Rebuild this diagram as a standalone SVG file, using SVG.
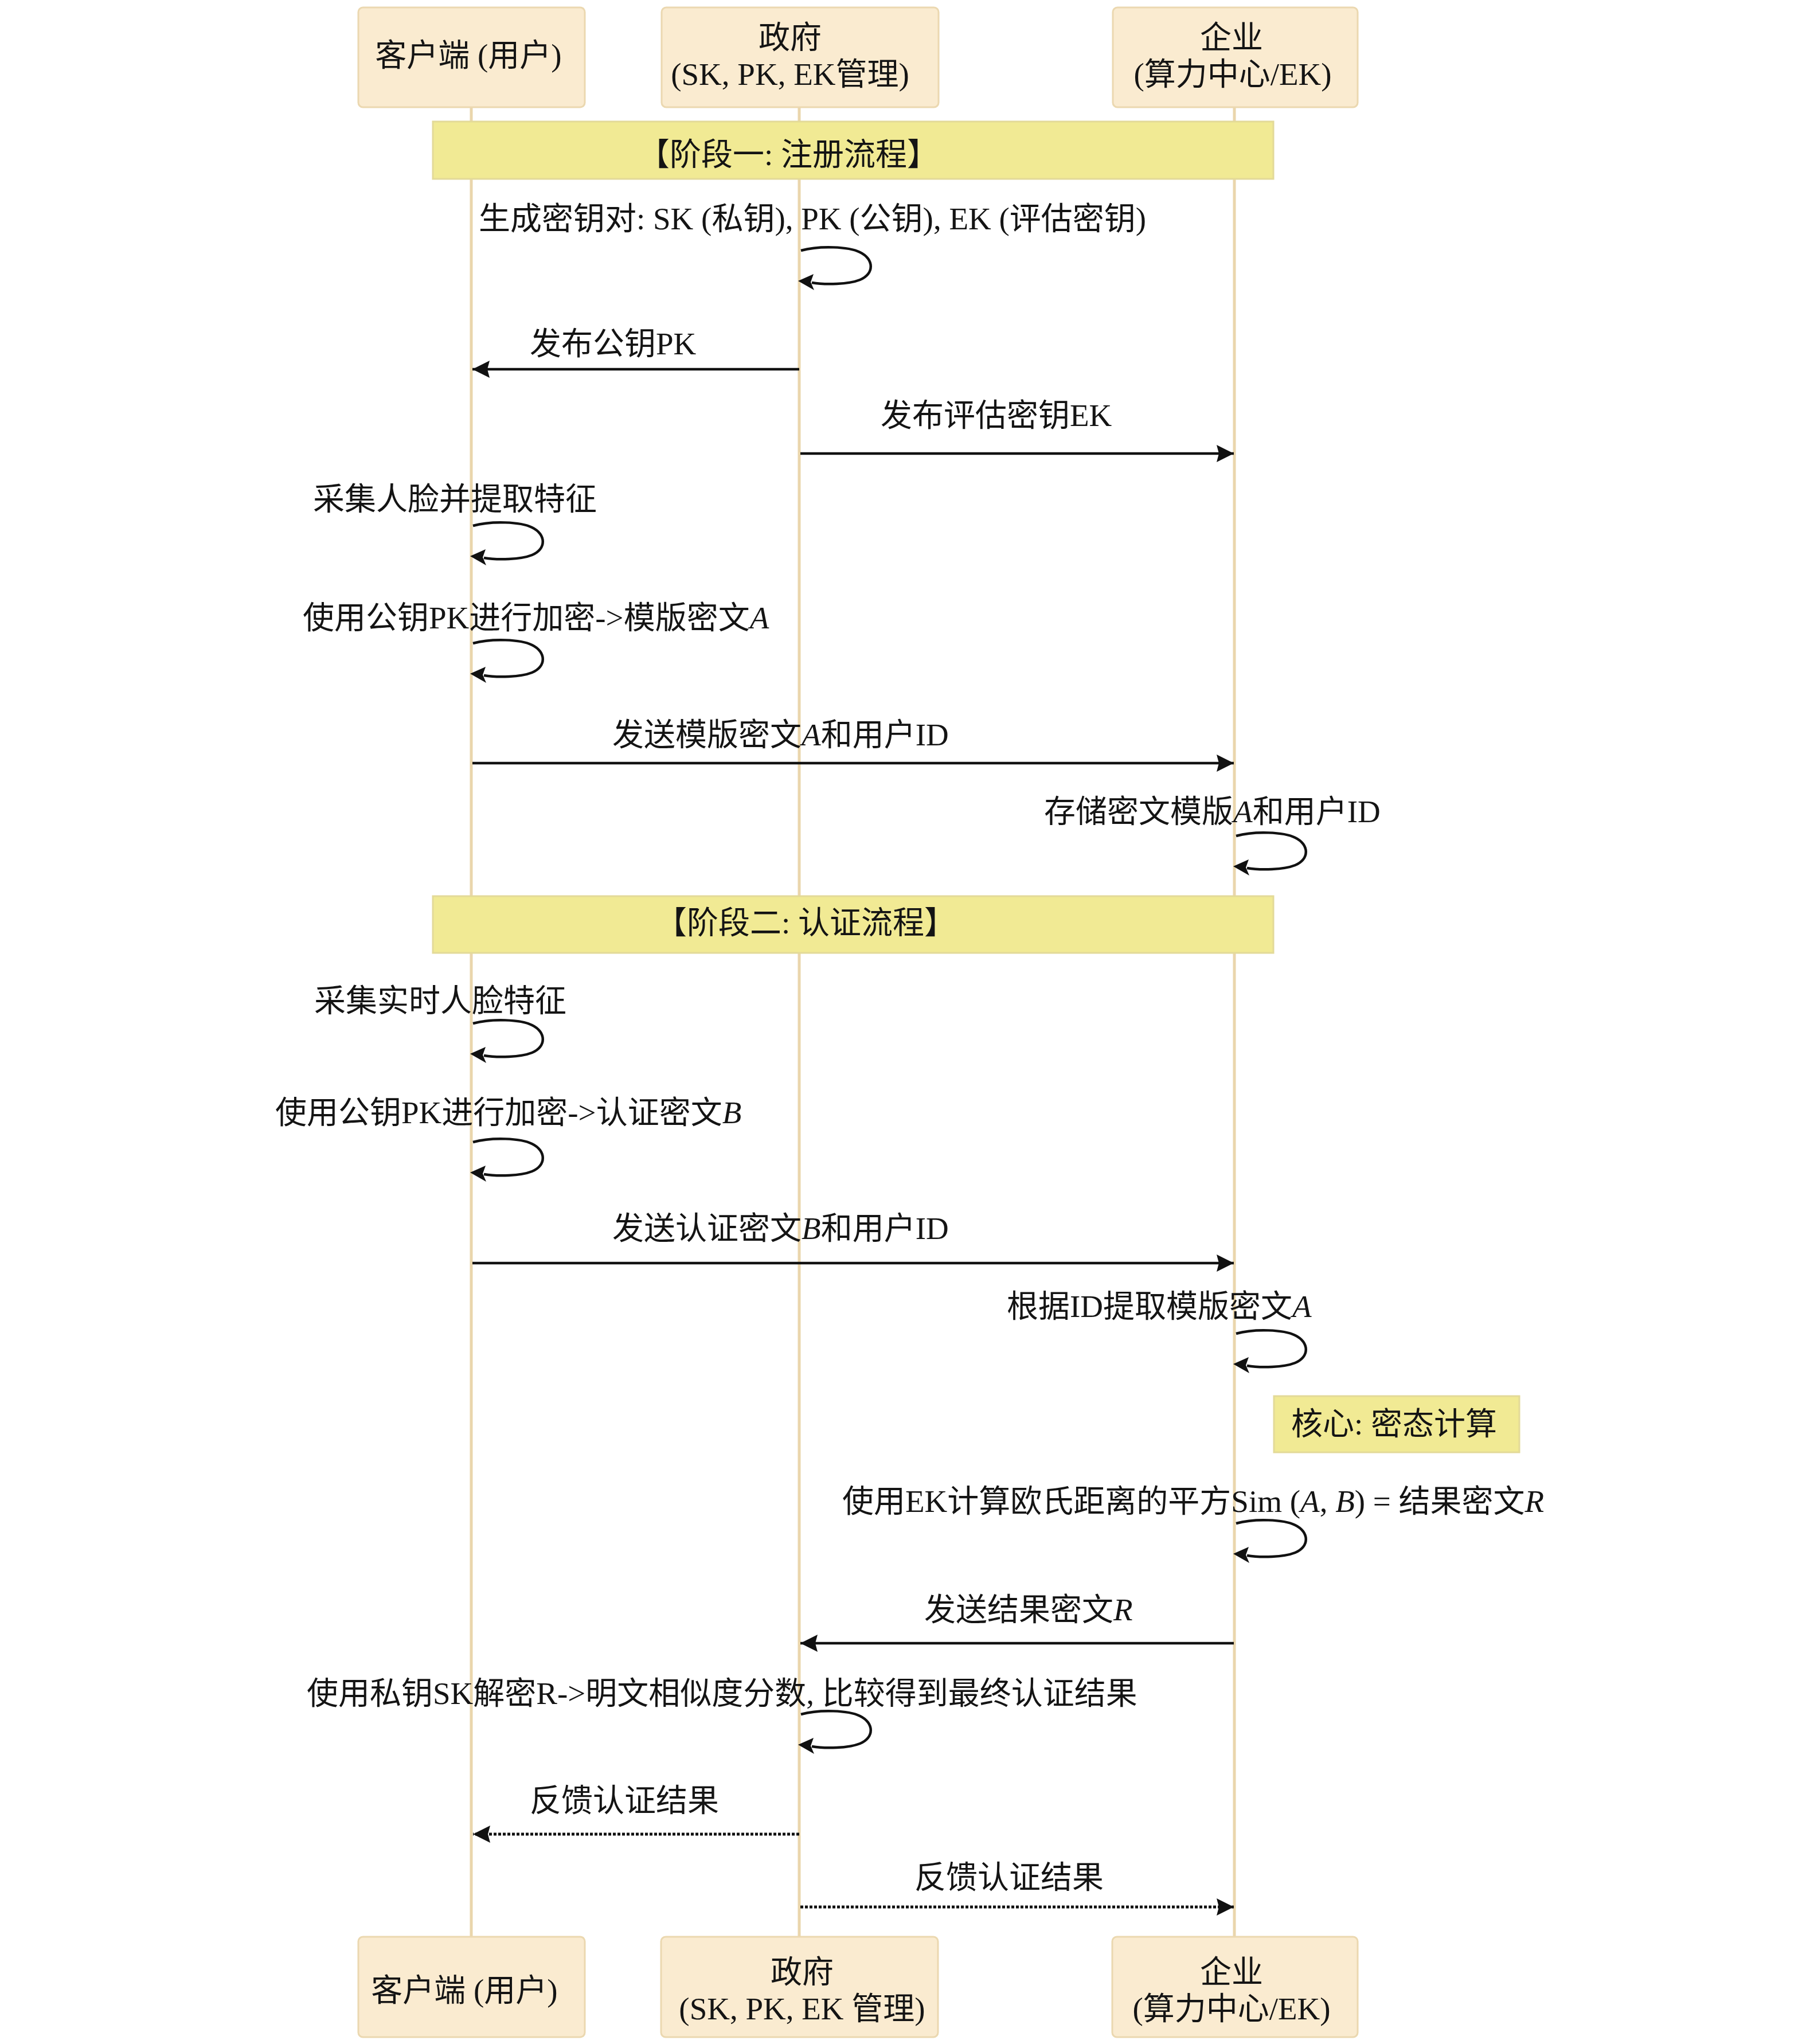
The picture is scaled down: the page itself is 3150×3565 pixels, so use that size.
<svg xmlns="http://www.w3.org/2000/svg" xmlns:xlink="http://www.w3.org/1999/xlink" width="3150" height="3565" viewBox="0 0 3150 3565">
<style>
text{font-family:"Liberation Serif","Noto Sans CJK SC",serif;font-size:55px;fill:#141414}
.mid{text-anchor:middle}
.it{font-style:italic}
.box{fill:#FAEBD0;stroke:#EBD8B0;stroke-width:3}
.band{fill:#F1EA94;stroke:#E3DA98;stroke-width:3}
.life{stroke:#EAD6AC;stroke-width:5;fill:none}
.msg{stroke:#111;stroke-width:4.5;fill:none}
.dot{stroke:#111;stroke-width:5;fill:none;stroke-dasharray:5 3}
</style>
<defs>
<marker id="ah" markerUnits="userSpaceOnUse" markerWidth="32" markerHeight="32" viewBox="0 0 32 32" refX="30" refY="16" orient="auto">
<path d="M0,1 L30,16 L0,31 L4,16 z" fill="#111"/>
</marker>
<g id="loop">
<path d="M3,2 C36,-7 86,-5 106,5 C131,17 131,43 106,53 C86,61 46,62 22,58" fill="none" stroke="#111" stroke-width="4.5"/>
<polygon points="-2,55 25,43 20,57 26,71" fill="#111"/>
</g>
</defs>
<rect width="3150" height="3565" fill="#fff"/>

<g id="lifelines">
<line class="life" x1="822" y1="187" x2="822" y2="3378"/>
<line class="life" x1="1394" y1="187" x2="1394" y2="3378"/>
<line class="life" x1="2153" y1="187" x2="2153" y2="3378"/>
</g>

<g id="client-top">
<rect class="box" x="625" y="13" width="395" height="174" rx="8"/>
<text class="mid" x="817" y="115">客户端 (用户)</text>
</g>
<g id="gov-top">
<rect class="box" x="1154" y="13" width="483" height="174" rx="8"/>
<text class="mid" x="1378" y="84">政府</text>
<text class="mid" x="1378" y="148">(SK, PK, EK管理)</text>
</g>
<g id="ent-top">
<rect class="box" x="1941" y="13" width="427" height="174" rx="8"/>
<text class="mid" x="2148" y="84">企业</text>
<text class="mid" x="2150" y="148">(算力中心/EK)</text>
</g>

<g id="phase1">
<rect class="band" x="755" y="212" width="1466" height="100"/>
<text class="mid" x="1375" y="288">【阶段一: 注册流程】</text>
</g>
<g id="phase2">
<rect class="band" x="755" y="1563" width="1466" height="99"/>
<text class="mid" x="1405" y="1628">【阶段二: 认证流程】</text>
</g>
<g id="core-note">
<rect class="band" x="2222" y="2435" width="428" height="98"/>
<text x="2252" y="2502">核心: 密态计算</text>
</g>

<g id="connectors">
<use xlink:href="#loop" x="1394" y="435"/>
<line class="msg" x1="1394" y1="644" x2="824" y2="644" marker-end="url(#ah)"/>
<line class="msg" x1="1396" y1="791" x2="2152" y2="791" marker-end="url(#ah)"/>
<use xlink:href="#loop" x="822" y="915"/>
<use xlink:href="#loop" x="822" y="1120"/>
<line class="msg" x1="824" y1="1331" x2="2152" y2="1331" marker-end="url(#ah)"/>
<use xlink:href="#loop" x="2153" y="1456"/>
<use xlink:href="#loop" x="822" y="1783"/>
<use xlink:href="#loop" x="822" y="1990"/>
<line class="msg" x1="824" y1="2203" x2="2152" y2="2203" marker-end="url(#ah)"/>
<use xlink:href="#loop" x="2153" y="2324"/>
<use xlink:href="#loop" x="2153" y="2655"/>
<line class="msg" x1="2152" y1="2866" x2="1396" y2="2866" marker-end="url(#ah)"/>
<use xlink:href="#loop" x="1394" y="2988"/>
<line class="dot" x1="1394" y1="3199" x2="825" y2="3199" marker-end="url(#ah)"/>
<line class="dot" x1="1396" y1="3326" x2="2152" y2="3326" marker-end="url(#ah)"/>
</g>

<g id="labels">
<text x="835" y="400">生成密钥对: SK (私钥), PK (公钥), EK (评估密钥)</text>
<text x="924" y="618">发布公钥PK</text>
<text x="1536" y="743">发布评估密钥EK</text>
<text x="546" y="889">采集人脸并提取特征</text>
<text x="528" y="1096">使用公钥PK进行加密-&gt;模版密文<tspan class="it">A</tspan></text>
<text x="1068" y="1300">发送模版密文<tspan class="it">A</tspan>和用户ID</text>
<text x="1821" y="1434">存储密文模版<tspan class="it">A</tspan>和用户ID</text>
<text x="548" y="1764">采集实时人脸特征</text>
<text x="480" y="1959">使用公钥PK进行加密-&gt;认证密文<tspan class="it">B</tspan></text>
<text x="1068" y="2161">发送认证密文<tspan class="it">B</tspan>和用户ID</text>
<text x="1756" y="2297">根据ID提取模版密文<tspan class="it">A</tspan></text>
<text x="1469" y="2637">使用EK计算欧氏距离的平方Sim (<tspan class="it">A</tspan>, <tspan class="it">B</tspan>) = 结果密文<tspan class="it">R</tspan></text>
<text x="1612" y="2826">发送结果密文<tspan class="it">R</tspan></text>
<text x="535" y="2972">使用私钥SK解密R-&gt;明文相似度分数, 比较得到最终认证结果</text>
<text x="924" y="3159">反馈认证结果</text>
<text x="1595" y="3293">反馈认证结果</text>
</g>

<g id="client-bottom">
<rect class="box" x="625" y="3378" width="395" height="175" rx="8"/>
<text class="mid" x="810" y="3490">客户端 (用户)</text>
</g>
<g id="gov-bottom">
<rect class="box" x="1153" y="3378" width="483" height="175" rx="8"/>
<text class="mid" x="1399" y="3458">政府</text>
<text class="mid" x="1399" y="3522">(SK, PK, EK 管理)</text>
</g>
<g id="ent-bottom">
<rect class="box" x="1940" y="3378" width="428" height="175" rx="8"/>
<text class="mid" x="2148" y="3458">企业</text>
<text class="mid" x="2148" y="3522">(算力中心/EK)</text>
</g>
</svg>
